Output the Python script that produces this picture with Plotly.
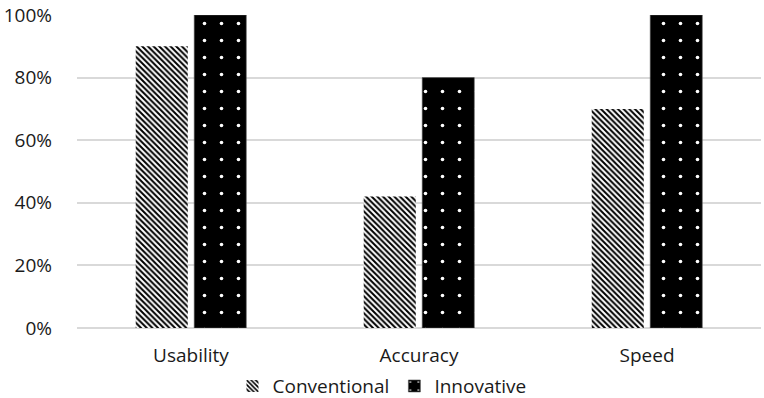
import plotly.graph_objects as go

categories = ["Usability", "Accuracy", "Speed"]
conventional = [0.90, 0.42, 0.70]
innovative = [1.00, 0.80, 1.00]
y_ticks = [0, 0.2, 0.4, 0.6, 0.8, 1.0]
y_tick_labels = ["0%", "20%", "40%", "60%", "80%", "100%"]

font_family = "'Open Sans', sans-serif"
font_size = 19

fig = go.Figure()
fig.add_trace(go.Bar(
    name="Conventional",
    x=categories,
    y=conventional,
    marker=dict(
        color="white",
        line=dict(width=0),
        pattern=dict(shape="\\", fgcolor="black", bgcolor="white",
                     size=4, solidity=0.5, fillmode="replace"),
    ),
))
fig.add_trace(go.Bar(
    name="Innovative",
    x=categories,
    y=innovative,
    marker=dict(
        color="black",
        line=dict(width=0.6, color="#555555"),
        pattern=dict(shape=".", fgcolor="white", bgcolor="black",
                     size=17, solidity=0.035, fillmode="replace"),
    ),
))

fig.update_layout(
    width=764,
    height=398,
    margin=dict(l=77, r=3, t=15, b=70, autoexpand=False),
    paper_bgcolor="white",
    plot_bgcolor="white",
    barmode="group",
    bargap=0.487,
    bargroupgap=0.11,
    font=dict(family=font_family, size=font_size, color="#1a1a1a"),
    showlegend=True,
    legend=dict(
        orientation="h",
        xref="container",
        x=0.5, xanchor="center",
        y=-0.125, yanchor="top",
        font=dict(size=font_size),
        itemwidth=30,
        traceorder="normal",
    ),
    xaxis=dict(
        showgrid=False,
        showline=False,
        ticks="",
        ticklabelstandoff=14,
        tickfont=dict(size=font_size),
    ),
    yaxis=dict(
        range=[0, 1.0],
        tickvals=y_ticks,
        ticktext=y_tick_labels,
        showgrid=True,
        gridcolor="#d9d9d9",
        gridwidth=1.5,
        zeroline=True,
        zerolinecolor="#d9d9d9",
        zerolinewidth=1.5,
        ticks="",
        ticklabelstandoff=24,
        tickfont=dict(size=font_size),
    ),
)

fig.write_html("out.html")
